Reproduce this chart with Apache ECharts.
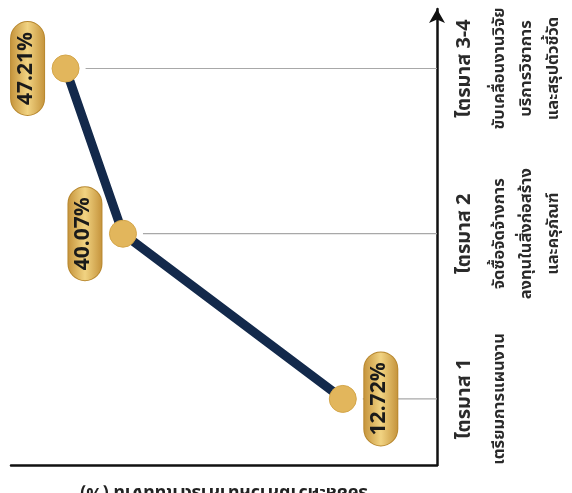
<!DOCTYPE html>
<html>
<head>
<meta charset="utf-8">
<script src="https://cdn.jsdelivr.net/npm/echarts@6/dist/echarts.min.js"></script>
<style>
html,body{margin:0;padding:0;background:#ffffff;}
#chart{width:572px;height:493px;}
</style>
</head>
<body>
<div id="chart"></div>
<script>
const categories = ['ไตรมาส 1', 'ไตรมาส 2', 'ไตรมาส 3-4'];
const descriptions = [
  ['เตรียมการแผนงาน'],
  ['จัดซื้อจัดจ้างการ', 'ลงทุนในสิ่งก่อสร้าง', 'และครุภัณฑ์'],
  ['ขับเคลื่อนงานวิจัย', 'บริการวิชาการ', 'และสรุปตัวชี้วัด']
];
const values = [12.72, 40.07, 47.21];
const valueAxisName = 'ร้อยละความก้าวหน้าการดำเนินงาน (%)';

const FONT = '"Noto Sans Thai", "Noto Sans", "DejaVu Sans", sans-serif';
const X_MIN = 1, X_MAX = 54;

const pointData = values.map((v, i) => ({
  value: [v, i],
  label: {
    position: i === 0 ? 'right' : 'left'
  }
}));

const pillFill = new echarts.graphic.LinearGradient(0, 0, 0, 1, [
  { offset: 0, color: '#c4923a' },
  { offset: 0.5, color: '#f1d382' },
  { offset: 1, color: '#c4923a' }
]);

const chart = echarts.init(document.getElementById('chart'));
chart.setOption({
  backgroundColor: '#ffffff',
  animation: false,
  grid: { left: 11, right: 135, top: 9, bottom: 28, containLabel: false, outerBoundsMode: 'none' },
  xAxis: {
    type: 'value',
    inverse: true,
    min: X_MIN,
    max: X_MAX,
    position: 'bottom',
    axisLine: { show: true, onZero: false, lineStyle: { color: '#111', width: 2.5 } },
    axisTick: { show: false },
    axisLabel: { show: false },
    splitLine: { show: false },
    name: valueAxisName,
    nameLocation: 'middle',
    nameRotate: 180,
    nameGap: 18,
    nameTextStyle: { fontFamily: FONT, fontSize: 18, fontWeight: 'bold', color: '#222' }
  },
  yAxis: {
    type: 'value',
    position: 'right',
    min: -0.4,
    max: 2.36,
    axisLine: {
      show: true, onZero: false,
      symbol: ['none', 'arrow'],
      symbolSize: [12, 14],
      lineStyle: { color: '#111', width: 2.5 }
    },
    axisTick: { show: false },
    splitLine: { show: false },
    axisLabel: {
      show: true,
      customValues: categories.map((c, i) => i),
      rotate: 90,
      margin: 8,
      formatter: function (val) {
        const i = Math.round(val);
        const lines = ['{t|' + categories[i] + '}'];
        descriptions[i].forEach(d => lines.push('{d|' + d + '}'));
        return lines.join('\n');
      },
      rich: {
        t: { fontFamily: FONT, fontSize: 20, fontWeight: 'bold', color: '#2a2a2a', lineHeight: 42 },
        d: { fontFamily: FONT, fontSize: 16.5, fontWeight: 'bold', color: '#2a2a2a', lineHeight: 27 }
      }
    }
  },
  series: [
    {
      type: 'custom',
      z: 1,
      silent: true,
      data: values.map((v, i) => [v, i]),
      renderItem: function (params, api) {
        const p = api.coord([api.value(0), api.value(1)]);
        const e = api.coord([X_MIN, api.value(1)]);
        return {
          type: 'line',
          shape: { x1: p[0] + 20, y1: p[1], x2: e[0], y2: e[1] },
          style: { stroke: '#a8a8a8', lineWidth: 1.2 }
        };
      }
    },
    {
      type: 'line',
      z: 3,
      data: pointData,
      symbol: 'circle',
      symbolSize: 27,
      itemStyle: { color: '#e2b65c', borderColor: '#d4a64a', borderWidth: 1 },
      lineStyle: { color: '#13294b', width: 9 },
      label: {
        show: true,
        rotate: 90,
        distance: 24,
        align: 'center',
        verticalAlign: 'middle',
        formatter: function (p) { return p.value[0].toFixed(2) + '%'; },
        fontFamily: FONT,
        fontSize: 21,
        fontWeight: 'bold',
        color: '#1a1a1a',
        backgroundColor: pillFill,
        borderColor: '#b8882f',
        borderWidth: 1,
        borderRadius: 17,
        padding: [7, 10, 5, 10]
      }
    }
  ]
});
</script>
</body>
</html>
